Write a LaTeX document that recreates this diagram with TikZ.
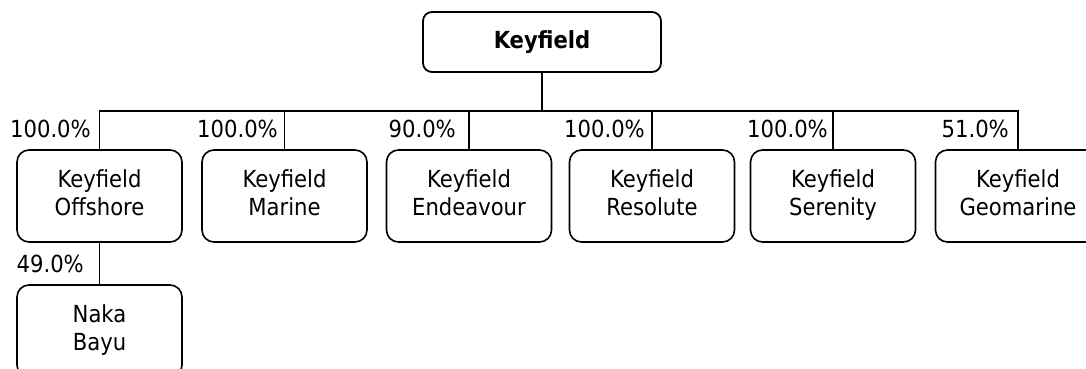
\documentclass[tikz,border=0pt]{standalone}
\usepackage{fontspec}
\setmainfont{DejaVu Sans Condensed}
\newcommand{\txtfont}{\fontsize{23.5}{28}\selectfont}
\begin{document}
\begin{tikzpicture}[x=1pt,y=-1pt,
  box/.style={draw=black,line width=1.6pt,rounded corners=12pt,minimum width=165pt,minimum height=92pt,align=center,inner sep=0pt,font=\txtfont},
  rootbox/.style={draw=black,line width=1.8pt,rounded corners=9pt,minimum width=238pt,minimum height=60pt,inner sep=0pt,font=\txtfont\bfseries},
  pct/.style={anchor=base east,inner sep=0pt,font=\txtfont},
  link/.style={draw=black,line width=1.6pt}]
\useasboundingbox (0,0) rectangle (1086,369);
\node[rootbox] (root) at (542,42) {Keyfield};
\node[box] (c1) at (99.5,196) {\strut Keyfield\\\strut Offshore};
\node[box] (c2) at (284.5,196) {\strut Keyfield\\\strut Marine};
\node[box] (c3) at (469,196) {\strut Keyfield\\\strut Endeavour};
\node[box] (c4) at (652,196) {\strut Keyfield\\\strut Resolute};
\node[box] (c5) at (833,196) {\strut Keyfield\\\strut Serenity};
\node[box] (c6) at (1018,196) {\strut Keyfield\\\strut Geomarine};
\node[box] (c7) at (99.5,331) {\strut Naka\\\strut Bayu};
\coordinate (bus) at (542,111);
\draw[link,line width=2.2pt] (root.south) -- (bus);
\foreach \c in {c1,c2,c3,c4,c5,c6}{\draw[link] (bus) -| (\c.north);}
\draw[link] (c1.south) -- (c7.north);
\node[pct] (p1) at (91,137) {100.0\%};
\node[pct] (p2) at (278,137) {100.0\%};
\node[pct] (p3) at (456,137) {90.0\%};
\node[pct] (p4) at (645,137) {100.0\%};
\node[pct] (p5) at (828,137) {100.0\%};
\node[pct] (p6) at (1009,137) {51.0\%};
\node[pct] (p7) at (84,272) {49.0\%};
\end{tikzpicture}
\end{document}
